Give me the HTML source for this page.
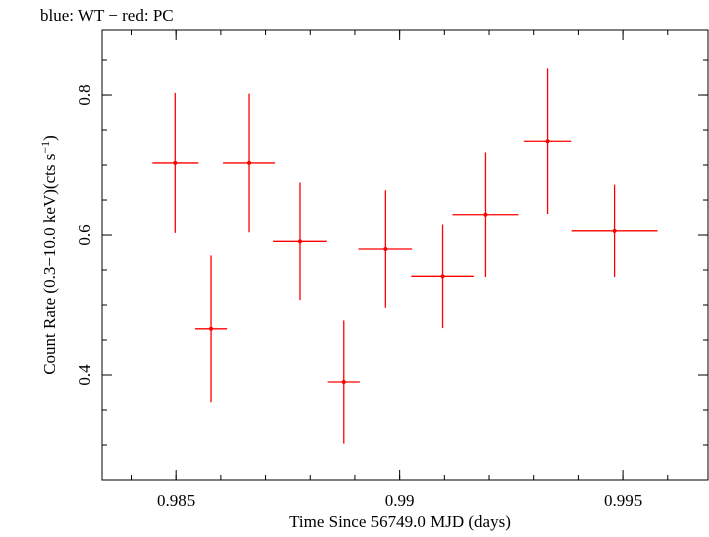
<!DOCTYPE html>
<html><head><meta charset="utf-8"><style>
body{margin:0;background:#fff;}
svg text{font-family:"Liberation Serif",serif;}
</style></head><body>
<svg id="chart" width="709" height="532" xmlns="http://www.w3.org/2000/svg">
<text x="40" y="21" font-size="17">blue: WT − red: PC</text>
<rect x="102" y="30" width="606" height="450" fill="none" stroke="#000" stroke-width="1"/>
<g id="ticks"></g>
<g id="marks"></g>
<text x="400" y="527" font-size="17" text-anchor="middle">Time Since 56749.0 MJD (days)</text>
<text transform="translate(55,255) rotate(-90)" font-size="17" text-anchor="middle">Count Rate (0.3−10.0 keV)(cts s<tspan dy="-6" font-size="12">−1</tspan><tspan dy="6">)</tspan></text>
</svg>
<script>
const xVals=[0.98498,0.98578,0.98663,0.98777,0.98875,0.98968,0.99096,0.99192,0.99331,0.99481];
const xErrs=[0.000515,0.00036,0.00058,0.0006,0.00036,0.0006,0.0007,0.00074,0.00053,0.00096];
const yVals=[0.703,0.466,0.703,0.591,0.39,0.58,0.541,0.629,0.734,0.606];
const yErrs=[0.1,0.105,0.099,0.084,0.088,0.084,0.074,0.089,0.104,0.066];
const xTicks=[0.985,0.99,0.995];
const xTickLabels=["0.985","0.99","0.995"];
const yTicks=[0.4,0.6,0.8];
const yTickLabels=["0.4","0.6","0.8"];
const X0=102,X1=708,Y0=30,Y1=480,xmin=0.98334,xmax=0.9969,ymin=0.25,ymax=0.8929;
const sx=v=>X0+(v-xmin)/(xmax-xmin)*(X1-X0);
const sy=v=>Y1-(v-ymin)/(ymax-ymin)*(Y1-Y0);
const NS="http://www.w3.org/2000/svg";
function mk(tag,attrs,parent){const e=document.createElementNS(NS,tag);for(const k in attrs)e.setAttribute(k,attrs[k]);parent.appendChild(e);return e;}
const tg=document.getElementById('ticks'),mg=document.getElementById('marks');
for(let v=0.984;v<=0.9965;v+=0.001){const x=sx(v);if(x<X0||x>X1)continue;
 let l=mk('line',{x1:x,x2:x,y1:Y1,y2:Y1-5,stroke:'#000'},tg);
 l=mk('line',{x1:x,x2:x,y1:Y0,y2:Y0+5,stroke:'#000'},tg);}
for(let v=0.3;v<=0.89;v+=0.05){const y=sy(v);
 let l=mk('line',{x1:X0,x2:X0+5,y1:y,y2:y,stroke:'#000'},tg);
 l=mk('line',{x1:X1,x2:X1-5,y1:y,y2:y,stroke:'#000'},tg);}
xTicks.forEach((v,i)=>{const x=sx(v);
 let l=mk('line',{x1:x,x2:x,y1:Y1,y2:Y1-10,stroke:'#000'},tg);
 l=mk('line',{x1:x,x2:x,y1:Y0,y2:Y0+10,stroke:'#000'},tg);
 const t=mk('text',{x:x,y:Y1+26,'font-size':17,'text-anchor':'middle'},tg);t.textContent=xTickLabels[i];
 });
yTicks.forEach((v,i)=>{const y=sy(v);
 let l=mk('line',{x1:X0,x2:X0+10,y1:y,y2:y,stroke:'#000'},tg);
 l=mk('line',{x1:X1,x2:X1-10,y1:y,y2:y,stroke:'#000'},tg);
 const t=mk('text',{transform:`translate(${X0-12},${y}) rotate(-90)`,'font-size':17,'text-anchor':'middle'},tg);t.textContent=yTickLabels[i];
 });
xVals.forEach((v,i)=>{const x=sx(v),y=sy(yVals[i]);
 const g=mk('g',{},mg);
 mk('line',{x1:sx(v-xErrs[i]),x2:sx(v+xErrs[i]),y1:y,y2:y,stroke:'#f00','stroke-width':1.3},g);
 mk('line',{x1:x,x2:x,y1:sy(yVals[i]+yErrs[i]),y2:sy(yVals[i]-yErrs[i]),stroke:'#f00','stroke-width':1.3},g);
 mk('circle',{cx:x,cy:y,r:2,fill:'#f00'},g);});
</script>
</body></html>
